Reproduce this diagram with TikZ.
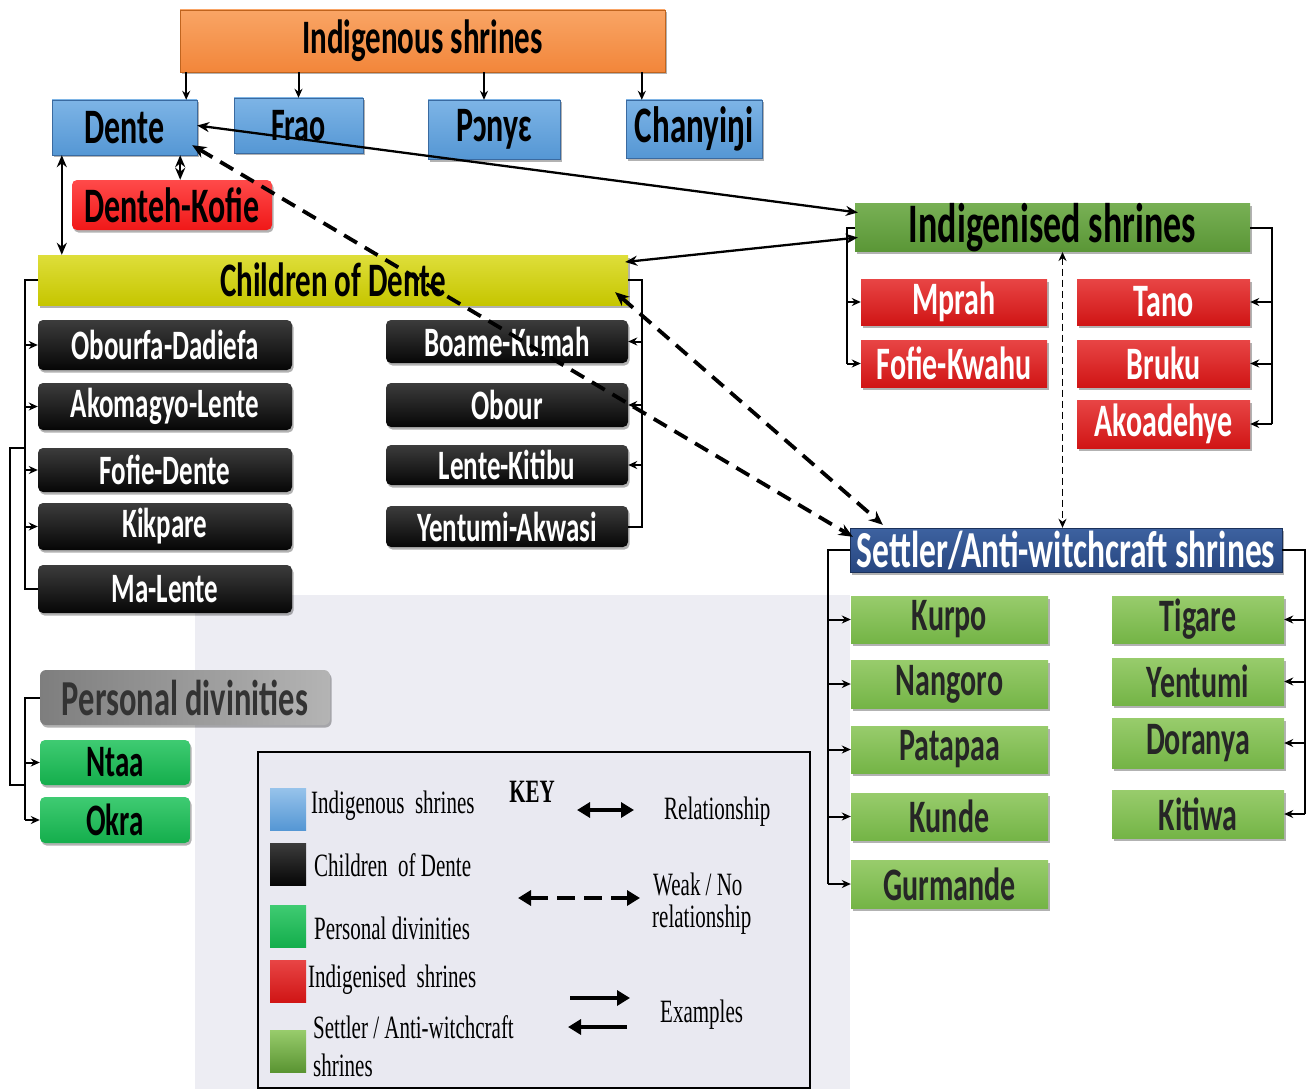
\documentclass[tikz,border=0pt]{standalone}
\usepackage{graphicx}
\usepackage{fontspec}
\setmainfont{Carlito}
\newfontfamily\keyfont{Liberation Serif}
\usetikzlibrary{arrows.meta,calc,shadows}
\definecolor{orangeM}{HTML}{F2863A}\definecolor{orangeL}{HTML}{F9A565}\definecolor{orangeD}{HTML}{C0641E}
\definecolor{blueM}{HTML}{5597D4}\definecolor{blueL}{HTML}{7DB4E6}\definecolor{blueD}{HTML}{3A6AA0}
\definecolor{rbM}{HTML}{F01818}\definecolor{rbL}{HTML}{FF4A4A}
\definecolor{redM}{HTML}{D01515}\definecolor{redL}{HTML}{E84545}\definecolor{redD}{HTML}{A00A0A}
\definecolor{yelM}{HTML}{C6C600}\definecolor{yelL}{HTML}{DEDE3A}\definecolor{yelD}{HTML}{9A9A00}
\definecolor{dgM}{HTML}{5A9636}\definecolor{dgL}{HTML}{78B055}\definecolor{dgD}{HTML}{3E6E24}
\definecolor{bkM}{HTML}{060606}\definecolor{bkL}{HTML}{3C3C3C}
\definecolor{gyL}{HTML}{7E7E7E}\definecolor{gyR}{HTML}{B4B4B4}
\definecolor{pgM}{HTML}{14AE4C}\definecolor{pgL}{HTML}{3FCB72}
\definecolor{nvM}{HTML}{274680}\definecolor{nvL}{HTML}{3D62A0}
\definecolor{lgM}{HTML}{74B446}\definecolor{lgL}{HTML}{98CC6C}\definecolor{lgD}{HTML}{5A9432}
\definecolor{keybg}{HTML}{E9E9F1}\definecolor{wmbg}{HTML}{EDEDF3}
\newcommand\vs[1]{\scalebox{1}[1.55]{#1}}
\newcommand\mkbox[7]{\node[#2, minimum width={#5-#3}, minimum height={#6-#4}] (#1) at ({(#3+#5)/2},{(#4+#6)/2}) {\vs{#7}};}
\tikzset{
 bx/.style={inner sep=0pt, text=black, drop shadow={shadow xshift=1.5pt,shadow yshift=-2.5pt,opacity=.3,fill=black}},
 fs/.style={font=\bfseries\fontsize{#1}{#1}\selectfont},
 orangebox/.style={bx, fs=31, draw=orangeD, top color=orangeL, bottom color=orangeM},
 bluebox/.style={bx, fs=32, draw=blueD, top color=blueL, bottom color=blueM},
 rbbox/.style={bx, fs=32, rounded corners=5pt, top color=rbL, bottom color=rbM},
 yelbox/.style={bx, fs=31, top color=yelL, bottom color=yelM},
 blkbox/.style={bx, fs=27, text=white, rounded corners=5pt, top color=bkL, bottom color=bkM},
 gybox/.style={bx, fs=32.5, rounded corners=6pt, left color=gyL, right color=gyR, text=black!80},
 pgbox/.style={bx, fs=29, rounded corners=5pt, top color=pgL, bottom color=pgM},
 dgbox/.style={bx, fs=36, top color=dgL, bottom color=dgM},
 redbox/.style={bx, fs=30, text=white, top color=redL, bottom color=redM},
 nvbox/.style={bx, fs=33.5, text=white, draw=nvM!70!black, top color=nvL, bottom color=nvM},
 lgbox/.style={bx, fs=30, text=black!85, top color=lgL, bottom color=lgM},
 ln/.style={line width=2pt},
 arr/.style={ln, -{Stealth[length=9pt,width=8pt]}},
 rel/.style={line width=2.3pt, {Stealth[length=12pt,width=10pt]}-{Stealth[length=12pt,width=10pt]}},
 weak/.style={line width=3.8pt, dash pattern=on 15pt off 9pt, {Stealth[length=14pt,width=12pt]}-{Stealth[length=14pt,width=12pt]}},
 weakv/.style={line width=1.8pt, dash pattern=on 7pt off 4pt, {Stealth[length=9pt,width=8pt]}-{Stealth[length=9pt,width=8pt]}},
 kl/.style={font=\keyfont\fontsize{21}{21}\selectfont, inner sep=0pt, anchor=west},
 sw/.style={minimum width=36, minimum height=42, inner sep=0pt},
 karr/.style={line width=4.5pt, -{Triangle[length=13pt,width=15pt]}},
 kdarr/.style={line width=4.5pt, {Triangle[length=13pt,width=15pt]}-{Triangle[length=13pt,width=15pt]}},
 kdash/.style={line width=4.5pt, dash pattern=on 18pt off 9pt, {Triangle[length=13pt,width=15pt]}-{Triangle[length=13pt,width=15pt]}},
}
\begin{document}
\begin{tikzpicture}[x=1pt,y=-1pt]
\useasboundingbox (0,0) rectangle (1309,1089);
\fill[wmbg] (195,595) rectangle (850,1089);
% top level
\mkbox{ind}{orangebox}{180}{10}{665}{72}{Indigenous shrines}
\mkbox{dente}{bluebox}{52}{100}{197}{155}{Dente}
\mkbox{frao}{bluebox, fs=30}{234}{98}{363}{153}{Frao}
\mkbox{ponye}{bluebox}{428}{100}{560}{159}{Pɔnyɛ}
\mkbox{chan}{bluebox, fs=33}{626}{100}{762}{158}{Chanyiŋi}
\mkbox{dk}{rbbox}{72}{180}{272}{230}{Denteh-Kofie}
\mkbox{cod}{yelbox}{38}{255}{628}{305}{Children of Dente}
% children
\mkbox{c1}{blkbox}{38}{320}{292}{370}{Obourfa-Dadiefa}
\mkbox{c2}{blkbox}{38}{383}{292}{430}{Akomagyo-Lente}
\mkbox{c3}{blkbox}{38}{448}{292}{492}{Fofie-Dente}
\mkbox{c4}{blkbox}{38}{503}{292}{550}{Kikpare}
\mkbox{c5}{blkbox}{38}{565}{292}{613}{Ma-Lente}
\mkbox{c6}{blkbox}{386}{320}{628}{363}{Boame-Kumah}
\mkbox{c7}{blkbox}{386}{383}{628}{427}{Obour}
\mkbox{c8}{blkbox}{386}{445}{628}{485}{Lente-Kitibu}
\mkbox{c9}{blkbox}{386}{506}{628}{547}{Yentumi-Akwasi}
% personal
\mkbox{pd}{gybox}{40}{670}{330}{725}{Personal divinities}
\mkbox{p1}{pgbox}{40}{740}{190}{785}{Ntaa}
\mkbox{p2}{pgbox}{40}{797}{190}{843}{Okra}
% indigenised
\mkbox{isd}{dgbox}{855}{205}{1250}{250}{Indigenised shrines}
\mkbox{i1}{redbox}{861}{279}{1047}{325}{Mprah}
\mkbox{i2}{redbox}{861}{340}{1047}{387}{Fofie-Kwahu}
\mkbox{i3}{redbox}{1077}{279}{1250}{325}{Tano}
\mkbox{i4}{redbox}{1077}{340}{1250}{387}{Bruku}
\mkbox{i5}{redbox}{1077}{400}{1250}{448}{Akoadehye}
% settler
\mkbox{sas}{nvbox}{850}{528}{1282}{572}{Settler/Anti-witchcraft shrines}
\mkbox{s1}{lgbox}{851}{596}{1048}{643}{Kurpo}
\mkbox{s2}{lgbox}{851}{660}{1048}{708}{Nangoro}
\mkbox{s3}{lgbox}{851}{726}{1048}{773}{Patapaa}
\mkbox{s4}{lgbox}{851}{793}{1048}{840}{Kunde}
\mkbox{s5}{lgbox}{851}{860}{1048}{908}{Gurmande}
\mkbox{s6}{lgbox}{1112}{596}{1284}{643}{Tigare}
\mkbox{s7}{lgbox}{1112}{658}{1284}{705}{Yentumi}
\mkbox{s8}{lgbox}{1112}{718}{1284}{768}{Doranya}
\mkbox{s9}{lgbox}{1112}{790}{1284}{838}{Kitiwa}
% top arrows
\draw[arr] ([xshift=-11pt]dente.north east |- ind.south) -- ([xshift=-11pt]dente.north east);
\draw[arr] (frao.north |- ind.south) -- (frao.north);
\draw[arr] ([xshift=-10pt]ponye.north |- ind.south) -- ([xshift=-10pt]ponye.north);
\draw[arr] ([xshift=16pt]chan.north west |- ind.south) -- ([xshift=16pt]chan.north west);
% relationships
\draw[rel] ([xshift=-17pt]dente.south east) -- ([xshift=-17pt]dente.south east |- dk.north);
\draw[rel] ([xshift=10pt]dente.south west) -- ([xshift=10pt]dente.south west |- cod.north);
\draw[rel] ([yshift=2pt]dente.east) -- ([yshift=15pt,xshift=3pt]isd.west);
\draw[rel] ([yshift=-10pt,xshift=3pt]isd.west) -- ([yshift=18pt,xshift=-3pt]cod.east);
% weak relationships
\draw[weak] ([shift={(-5,-10)}]dente.south east) -- ([shift={(3,9)}]sas.north west);
\draw[weak] ([shift={(-13,-13)}]cod.south east) -- ([shift={(33,-3)}]sas.north west);
\draw[weakv] ([xshift=10pt]isd.south) -- ([xshift=10pt]isd.south |- sas.north);
% brackets: children
\coordinate (cl) at ($(cod.west)+(-13,0)$);
\draw[ln] (cod.west) -- (cl) -- (cl |- c5.west) -- (c5.west);
\foreach \n in {c1,c2,c3,c4} \draw[arr] (cl |- \n.west) -- (\n.west);
\coordinate (cr) at ($(cod.east)+(14,0)$);
\draw[ln] (cod.east) -- (cr) -- (cr |- c9.east) -- (c9.east);
\foreach \n in {c6,c7,c8} \draw[arr] (cr |- \n.east) -- (\n.east);
% personal
\coordinate (pl) at ($(pd.west)+(-15,0)$);
\draw[ln] (pd.west) -- (pl) -- (pl |- p2.west);
\foreach \n in {p1,p2} \draw[arr] (pl |- \n.west) -- (\n.west);
\coordinate (oj) at (cl |- c3.north);
\draw[ln] (oj) -- ++(-15,0) coordinate (oj2) -- (oj2 |- p1.south) -- (pl |- p1.south);
% indigenised
\coordinate (bl) at ($(isd.west)+(-8,0)$);
\draw[ln] (isd.west) -- (bl) -- (bl |- i2.west);
\foreach \n in {i1,i2} \draw[arr] (bl |- \n.west) -- (\n.west);
\coordinate (br) at ($(isd.east)+(22,0)$);
\draw[ln] (isd.east) -- (br) -- (br |- i5.east);
\foreach \n in {i3,i4,i5} \draw[arr] (br |- \n.east) -- (\n.east);
% settler
\coordinate (sl) at ($(sas.west)+(-22,0)$);
\draw[ln] (sas.west) -- (sl) -- (sl |- s5.west);
\foreach \n in {s1,s2,s3,s4,s5} \draw[arr] (sl |- \n.west) -- (\n.west);
\coordinate (sr) at ($(sas.east)+(23,0)$);
\draw[ln] (sas.east) -- (sr) -- (sr |- s9.east);
\foreach \n in {s6,s7,s8,s9} \draw[arr] (sr |- \n.east) -- (\n.east);
% key
\node[draw=black, line width=1.2pt, fill=keybg, minimum width=552, minimum height=336, inner sep=0pt] (key) at (534,920) {};
\node[sw, top color=blueL!80!white, bottom color=blueM] (sw1) at (288,809) {};
\node[sw, top color=bkL, bottom color=bkM] (sw2) at (288,864) {};
\node[sw, top color=pgL, bottom color=pgM] (sw3) at (288,926) {};
\node[sw, top color=redL, bottom color=redM] (sw4) at (288,981) {};
\node[sw, top color=lgL, bottom color=lgD] (sw5) at (288,1051) {};
\node[kl] (k1) at (311,806) {\vs{Indigenous\ \ shrines}};
\node[kl] (k2) at (314,865) {\vs{Children\ \ of Dente}};
\node[kl] (k3) at (314,928) {\vs{Personal divinities}};
\node[kl] (k4) at (308,980) {\vs{Indigenised\ \ shrines}};
\node[kl] (k5) at (313,1027) {\vs{Settler / Anti-witchcraft}};
\node[kl] (k6) at (313,1065) {\vs{shrines}};
\node[kl, anchor=center, font=\keyfont\bfseries\fontsize{21}{21}\selectfont] (kt) at (532,792) {\vs{KEY}};
\coordinate (a1) at (577,810); \coordinate (a2) at (634,810);
\draw[kdarr] (a1) -- (a2);
\node[kl] (t1) at (664,812) {\vs{Relationship}};
\coordinate (b1) at (518,898); \coordinate (b2) at (640,898);
\draw[kdash] (b1) -- (b2);
\node[kl] (t2) at (653,884) {\vs{Weak / No}};
\node[kl] (t3) at (652,920) {\vs{relationship}};
\coordinate (e1) at (570,998); \coordinate (e2) at (630,998);
\coordinate (e3) at (627,1027); \coordinate (e4) at (568,1027);
\draw[karr] (e1) -- (e2);
\draw[karr] (e3) -- (e4);
\node[kl] (t4) at (660,1015) {\vs{Examples}};
\end{tikzpicture}
\end{document}
